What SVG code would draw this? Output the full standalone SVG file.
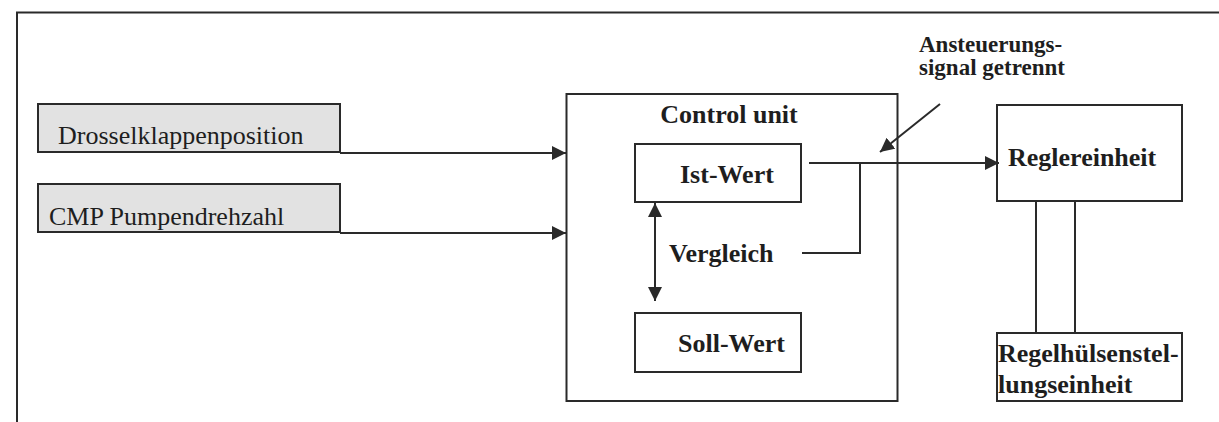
<svg xmlns="http://www.w3.org/2000/svg" width="1219" height="422" viewBox="0 0 1219 422">
<style>
.box{fill:#fff;stroke:#2a2a2a;stroke-width:2}
.inp{fill:#e2e2e2;stroke:#2a2a2a;stroke-width:2}
.ln{fill:none;stroke:#2a2a2a;stroke-width:2}
.t{font-family:"Liberation Serif","Times New Roman",serif;fill:#1e1e1e}
.b{font-weight:bold}
</style>
<defs>
<marker id="ah" viewBox="0 0 14 14" refX="14" refY="7" markerWidth="14" markerHeight="14" markerUnits="userSpaceOnUse" orient="auto-start-reverse">
<path d="M0,0 L14,7 L0,14 z" fill="#2a2a2a"/>
</marker>
</defs>
<rect width="1219" height="422" fill="#fff"/>
<path class="ln" d="M17,422 V12.5 H1219"/>

<g id="drossel">
<rect class="inp" x="38" y="104" width="302" height="48"/>
<text class="t" x="58" y="144" font-size="26">Drosselklappenposition</text>
</g>
<g id="cmp">
<rect class="inp" x="38" y="184" width="302" height="48"/>
<text class="t" x="49" y="225" font-size="26">CMP Pumpendrehzahl</text>
</g>
<g id="control-unit">
<rect class="box" x="566.5" y="94" width="331" height="307"/>
<text class="t b" x="729" y="123" font-size="26" text-anchor="middle">Control unit</text>
</g>
<g id="ist-wert">
<rect class="box" x="635" y="144" width="166" height="58"/>
<text class="t b" x="680" y="183" font-size="26">Ist-Wert</text>
</g>
<g id="vergleich">
<text class="t b" x="669" y="262" font-size="26">Vergleich</text>
</g>
<g id="soll-wert">
<rect class="box" x="635" y="313" width="166" height="59"/>
<text class="t b" x="678" y="352" font-size="26">Soll-Wert</text>
</g>
<g id="reglereinheit">
<rect class="box" x="997" y="105" width="185" height="96"/>
<text class="t b" x="1008" y="166" font-size="26">Reglereinheit</text>
</g>
<g id="regelhuelse">
<rect class="box" x="997" y="333" width="185" height="68"/>
<text class="t b" x="998" y="362" font-size="26">Regelhülsenstel-</text>
<text class="t b" x="998" y="393" font-size="26">lungseinheit</text>
</g>
<g id="signal-label">
<text class="t b" x="919" y="52" font-size="23">Ansteuerungs-</text>
<text class="t b" x="919" y="75" font-size="23">signal getrennt</text>
</g>

<g id="connectors">
<line class="ln" x1="340" y1="153" x2="566" y2="153" marker-end="url(#ah)"/>
<line class="ln" x1="340" y1="233" x2="566" y2="233" marker-end="url(#ah)"/>
<line class="ln" x1="655" y1="203" x2="655" y2="301" marker-start="url(#ah)" marker-end="url(#ah)"/>
<line class="ln" x1="809" y1="163" x2="999" y2="163" marker-end="url(#ah)"/>
<path class="ln" d="M802,253 H860 V163"/>
<line class="ln" x1="940" y1="104" x2="880" y2="152" marker-end="url(#ah)"/>
<line class="ln" x1="1036" y1="201" x2="1036" y2="333"/>
<line class="ln" x1="1075" y1="201" x2="1075" y2="333"/>
</g>
</svg>
